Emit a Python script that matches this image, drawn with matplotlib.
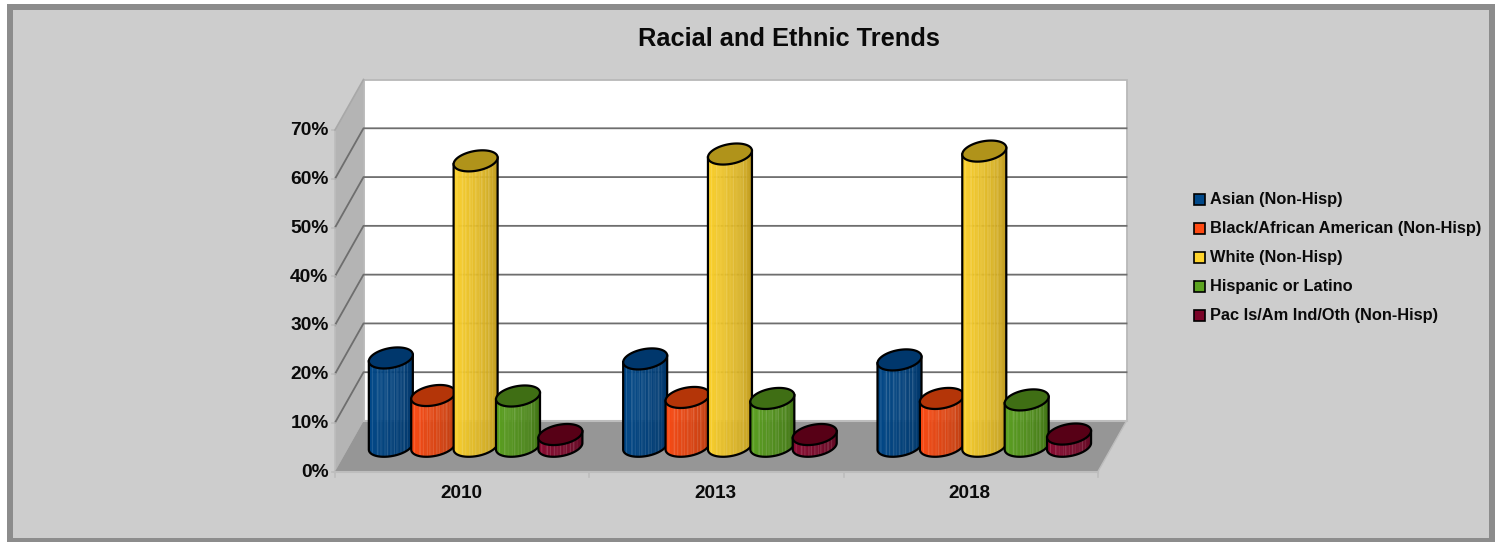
import numpy as np
import matplotlib
matplotlib.use("Agg")
import matplotlib.pyplot as plt
from matplotlib.colors import to_rgb
from matplotlib.patches import Polygon, Rectangle

plt.rcParams['font.family'] = ['Liberation Sans', 'DejaVu Sans']

title = "Racial and Ethnic Trends"
years = ["2010", "2013", "2018"]
series = ["Asian (Non-Hisp)", "Black/African American (Non-Hisp)", "White (Non-Hisp)",
          "Hispanic or Latino", "Pac Is/Am Ind/Oth (Non-Hisp)"]
asian = [18.1, 17.9, 17.7]
black = [10.4, 10.0, 9.8]
white = [58.5, 59.9, 60.5]
hispanic = [10.3, 9.8, 9.5]
pacific = [2.4, 2.4, 2.5]
values = [asian, black, white, hispanic, pacific]
yticks = [0, 10, 20, 30, 40, 50, 60, 70]

side_light = ["#004889", "#FF4A12", "#FFD42C", "#5CA320", "#8E0A32"]
side_dark = ["#003466", "#B23C10", "#B89520", "#3E6E14", "#5C0A22"]
top_col = ["#00376C", "#B43508", "#B0931A", "#3F6E14", "#570016"]
legend_col = ["#004889", "#FF4A12", "#FFD42C", "#5CA320", "#7A0428"]

W, H = 1501, 542
fig = plt.figure(figsize=(W / 100, H / 100), dpi=100, facecolor="white")

# full-figure layer for frame
bg = fig.add_axes([0, 0, 1, 1], zorder=0)
bg.set_xlim(0, W); bg.set_ylim(H, 0); bg.axis("off")
bg.add_patch(Rectangle((0, 0), W, H, fc="white", ec="none"))
bg.add_patch(Rectangle((7, 4), 1488, 538, fc="#8C8C8C", ec="none"))
bg.add_patch(Rectangle((13, 10), 1476, 528, fc="#CDCDCD", ec="none"))

# front plane of the plot
PX0, PX1, PY0, PY1 = 335, 1098, 471.5, 130
ax = fig.add_axes([PX0 / W, 1 - PY0 / H, (PX1 - PX0) / W, (PY0 - PY1) / H], zorder=1)
ax.set_xlim(0, 3); ax.set_ylim(0, 70); ax.axis("off")
xu = (PX1 - PX0) / 3.0      # px per category
yu = (PY0 - PY1) / 70.0     # px per percent
DX, DY = 28.5 / xu, 50.5 / yu   # full depth in data units


def poly(xs, ys, **kw):
    kw.setdefault("clip_on", False)
    ax.add_patch(Polygon(np.column_stack([xs, ys]), closed=True, **kw))


# walls
poly([0, DX, DX, 0], [0, DY, 70 + DY, 70], fc="#B4B4B4", ec="none", zorder=1)
poly([DX, 3 + DX, 3 + DX, DX], [DY, DY, 70 + DY, 70 + DY], fc="white", ec="#B8B8B8", lw=1.3, zorder=1)
poly([0, 3, 3 + DX, DX], [0, 0, DY, DY], fc="#969696", ec="none", zorder=3)
ax.plot([0, 3], [0, 0], color="#BDBDBD", lw=1.5, clip_on=False, zorder=4)
ax.plot([DX, 3 + DX], [DY, DY], color="#BDBDBD", lw=1.5, clip_on=False, zorder=4)
ax.plot([3, 3 + DX], [0, DY], color="#BDBDBD", lw=1, clip_on=False, zorder=4)
ax.plot([0, DX], [70, 70 + DY], color="#A8A8A8", lw=1.2, clip_on=False, zorder=4)
ax.plot([0, 0], [0, 70], color="#BDBDBD", lw=1.2, clip_on=False, zorder=2)

for v in yticks[1:-1]:
    ax.plot([0, DX, 3 + DX], [v, v + DY, v + DY], color="#6E6E6E", lw=1.3, clip_on=False, zorder=2)
for v in yticks:
    ax.plot([-3 / xu, 0], [v, v], color="#BDBDBD", lw=1.2, clip_on=False, zorder=2)
    ax.text(-6.5 / xu, v - 0.15, f"{v}%", ha="right", va="center", fontsize=13.8, fontweight="bold", color="#0A0A0A")
for i in range(4):
    ax.plot([i, i], [0, -5 / yu], color="#BDBDBD", lw=1.2, clip_on=False, zorder=2)
for i, y in enumerate(years):
    ax.text(i + 0.5 - 0.005, -22 / yu, y, ha="center", va="center", fontsize=13.6, fontweight="bold", color="#0A0A0A")

# cylinders
A, B, K = 22.0 / xu, 10.0 / yu, 3.3 / yu      # ellipse half width, half minor, shear
streaks = [0.08, 0.2, 0.27, 0.36, 0.43, 0.5, 0.58, 0.64, 0.73, 0.8, 0.88]


def mix(c1, c2, f):
    return tuple((1 - f) * np.array(to_rgb(c1)) + f * np.array(to_rgb(c2)))


def cylinder(cx, base, top, light, dark, tcol, z):
    t = np.linspace(np.pi, 2 * np.pi, 81)
    ex = cx + A * np.cos(t)
    ey_off = B * np.sin(t) + K * np.cos(t)
    # body strips, in shade from light (left) to dark (right)
    for i in range(len(t) - 1):
        f = (i / (len(t) - 2)) ** 1.4
        col = mix(light, dark, f)
        s = (ex[i] - (cx - A)) / (2 * A)
        if any(abs(s - q) < 0.011 for q in streaks):
            col = mix(col, "#FFFFFF", 0.14)
        poly([ex[i], ex[i + 1], ex[i + 1], ex[i]],
             [base + ey_off[i], base + ey_off[i + 1], top + ey_off[i + 1], top + ey_off[i]],
             fc=col, ec=col, lw=0.3, zorder=z)
    # outline of the body
    ax.plot(np.r_[ex[0], ex, ex[-1]], np.r_[top + ey_off[0], base + ey_off, top + ey_off[-1]],
            color="black", lw=1.6, clip_on=False, zorder=z + 0.1, solid_joinstyle="round")
    # top cap
    tt = np.linspace(0, 2 * np.pi, 121)
    poly(cx + A * np.cos(tt), top + B * np.sin(tt) + K * np.cos(tt),
         fc=tcol, ec="black", lw=1.6, zorder=z + 0.2)


mid_x, mid_y = DX / 2 - 0.8 / xu, DY / 2
z = 5
for g in range(3):
    for s in range(5):
        cx = g + 0.5 + (s - 2) / 6 + mid_x
        cylinder(cx, mid_y, mid_y + values[s][g], side_light[s], side_dark[s], top_col[s], z)
        z += 1

# title
bg.text(788.5, 38.5, title, ha="center", va="center", fontsize=18.3, fontweight="bold", color="#0A0A0A")

# legend
ly = [199, 228, 257, 286, 315]
for name, c, y in zip(series, legend_col, ly):
    bg.add_patch(Rectangle((1193.5, y - 5.5), 11, 11, fc=c, ec="black", lw=1.2))
    bg.text(1210, y + 0.8, name, ha="left", va="center", fontsize=11.8, fontweight="bold", color="#0A0A0A")

fig.savefig("out.png", dpi=100, facecolor="white")
